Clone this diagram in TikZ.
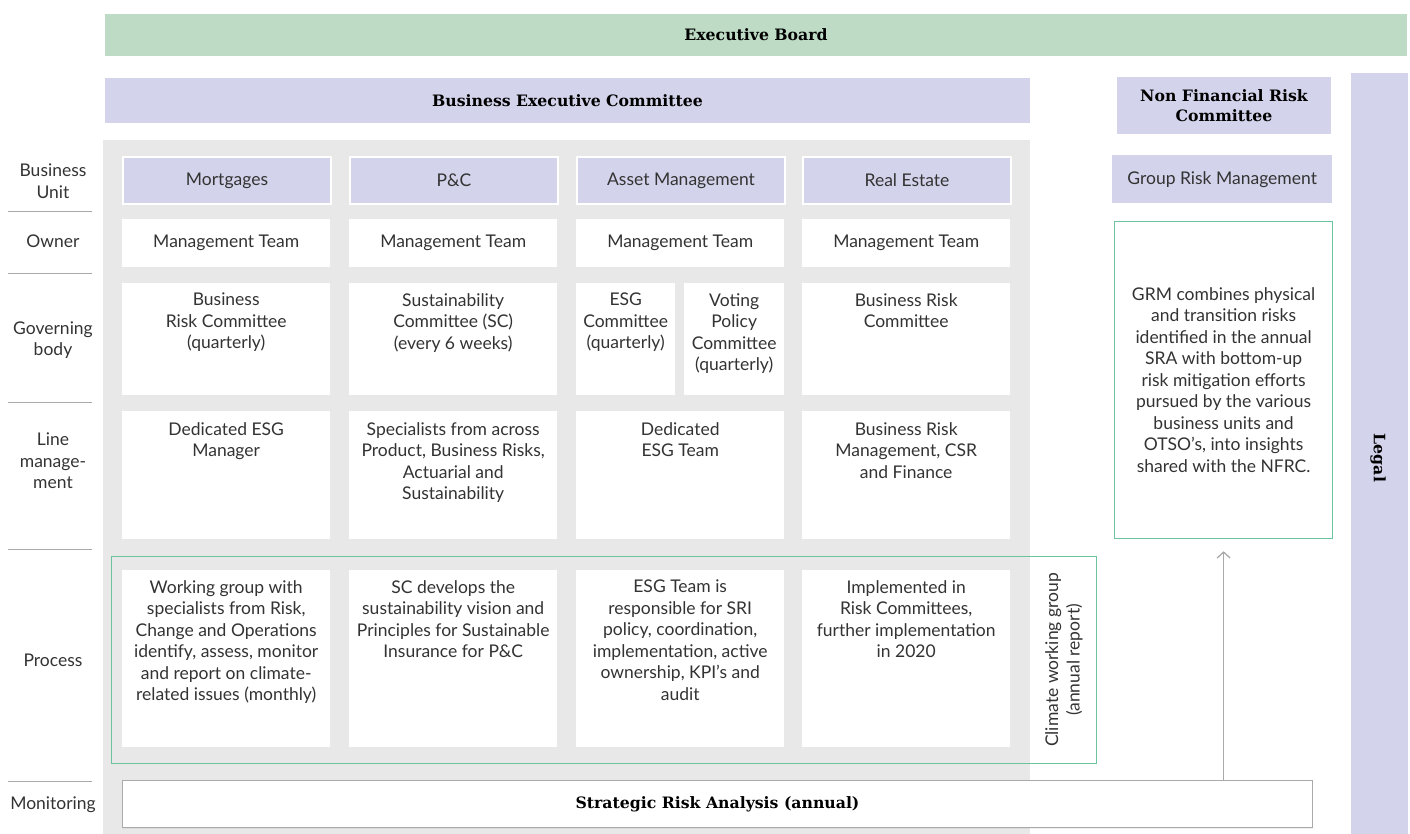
\documentclass[tikz,border=0pt]{standalone}
\usepackage{fontspec}
\setmainfont{Lato}
\newfontfamily\headfont{DejaVu Serif}
\usetikzlibrary{positioning,shadows,arrows.meta}

\definecolor{boardgreen}{HTML}{BEDCC5}
\definecolor{lavender}{HTML}{D3D4EB}
\definecolor{panelgray}{HTML}{E8E8E8}
\definecolor{framegreen}{HTML}{6CC49F}
\definecolor{textgray}{HTML}{333333}
\definecolor{rulegray}{HTML}{AAAAAA}

\tikzset{
  every node/.style={font=\fontsize{17.5}{21.5}\selectfont, text=textgray, inner sep=0pt},
  headfnt/.style={font=\headfont\bfseries\fontsize{15.7}{20}\selectfont, text=black},
  softshadow/.style={drop shadow={opacity=0.12, shadow xshift=0pt, shadow yshift=-1.5pt}},
  headbar/.style={fill=lavender, draw=white, line width=2pt, softshadow, headfnt, anchor=north west},
  unitbox/.style={fill=lavender, draw=white, line width=2pt, softshadow, minimum width=208pt, minimum height=47pt, anchor=north west},
  cellbox/.style={fill=white, minimum width=208pt, anchor=north west},
  celltext/.style={align=center, anchor=north},
  rowlabel/.style={align=center},
  rowrule/.style={draw=rulegray, line width=1pt},
  greenframe/.style={draw=framegreen, line width=1.2pt}
}

\begin{document}
\begin{tikzpicture}[x=1pt, y=-1pt]
  \useasboundingbox (0,0) rectangle (1410,834);

  % top bars
  \node[headbar, fill=boardgreen, minimum width=1304pt, minimum height=44pt] (board) at (103,12) {Executive Board};
  \node[headbar, minimum width=927pt, minimum height=47pt] (bec) at (103,76) {Business Executive Committee};
  \node[fill=panelgray, minimum width=927pt, minimum height=694pt, anchor=north west] (panel) at (103,140) {};

  % right column
  \node[headbar, minimum width=216pt, minimum height=59pt, align=center] (nfrc) at (1115,75) {Non Financial Risk\\Committee};
  \node[fill=lavender, minimum width=220pt, minimum height=48pt, anchor=north west] (grm) at (1112,155) {Group Risk Management};
  \node[fill=white, greenframe, minimum width=218pt, minimum height=317pt, anchor=north west, align=center] (grmnote) at (1114,221)
    {GRM combines physical\\and transition risks\\identified in the annual\\SRA with bottom-up\\risk mitigation efforts\\pursued by the various\\business units and\\OTSO's, into insights\\shared with the NFRC.};
  \node[fill=lavender, softshadow, minimum width=57pt, minimum height=761pt, anchor=north west] (legalbar) at (1351,73) {};
  \node[headfnt, rotate=-90] (legal) at (1378,458) {Legal};

  % row labels
  \foreach \y in {212,274,402,549,781}
    \draw[rowrule] (8,\y) -- (92,\y);
  \node[rowlabel] (lunit) at (53,181) {Business\\Unit};
  \node[rowlabel] (lowner) at (53,241) {Owner};
  \node[rowlabel] (lgov) at (53,340) {Governing\\body};
  \node[rowlabel] (lline) at (53,461) {Line\\manage-\\ment};
  \node[rowlabel] (lproc) at (53,660) {Process};
  \node[rowlabel] (lmon) at (53,805) {Monitoring};

  % business units
  \node[unitbox] (mort) at (122,156) {Mortgages};
  \node[unitbox] (pc) at (349,156) {P\&C};
  \node[unitbox] (am) at (576,156) {Asset Management};
  \node[unitbox] (re) at (802,156) {Real Estate};

  % owners
  \node[cellbox, minimum height=48pt] (own1) at (122,219) {Management Team};
  \node[cellbox, minimum height=48pt] (own2) at (349,219) {Management Team};
  \node[cellbox, minimum height=48pt] (own3) at (576,219) {Management Team};
  \node[cellbox, minimum height=48pt] (own4) at (802,219) {Management Team};

  % governing bodies
  \node[cellbox, minimum height=112pt] (gov1) at (122,283) {};
  \node[cellbox, minimum height=112pt] (gov2) at (349,283) {};
  \node[cellbox, minimum height=112pt, minimum width=99pt] (gov3a) at (576,283) {};
  \node[cellbox, minimum height=112pt, minimum width=100pt] (gov3b) at (684,283) {};
  \node[cellbox, minimum height=112pt] (gov4) at (802,283) {};
  \node[celltext] at ([yshift=-10pt]gov1.north) {Business\\Risk Committee\\(quarterly)};
  \node[celltext] at ([yshift=-10pt]gov2.north) {Sustainability\\Committee (SC)\\(every 6 weeks)};
  \node[celltext] at ([yshift=-10pt]gov3a.north) {ESG\\Committee\\(quarterly)};
  \node[celltext] at ([yshift=-10pt]gov3b.north) {Voting\\Policy\\Committee\\(quarterly)};
  \node[celltext] at ([yshift=-10pt]gov4.north) {Business Risk\\Committee};

  % line management
  \node[cellbox, minimum height=128pt] (line1) at (122,411) {};
  \node[cellbox, minimum height=128pt] (line2) at (349,411) {};
  \node[cellbox, minimum height=128pt] (line3) at (576,411) {};
  \node[cellbox, minimum height=128pt] (line4) at (802,411) {};
  \node[celltext] at ([yshift=-11pt]line1.north) {Dedicated ESG\\Manager};
  \node[celltext] at ([yshift=-11pt]line2.north) {Specialists from across\\Product, Business Risks,\\Actuarial and\\Sustainability};
  \node[celltext] at ([yshift=-11pt]line3.north) {Dedicated\\ESG Team};
  \node[celltext] at ([yshift=-11pt]line4.north) {Business Risk\\Management, CSR\\and Finance};

  % process
  \node[cellbox, minimum height=177pt] (proc1) at (122,570) {};
  \node[cellbox, minimum height=177pt] (proc2) at (349,570) {};
  \node[cellbox, minimum height=177pt] (proc3) at (576,570) {};
  \node[cellbox, minimum height=177pt] (proc4) at (802,570) {};
  \node[celltext] at ([yshift=-10pt]proc1.north) {Working group with\\specialists from Risk,\\Change and Operations\\identify, assess, monitor\\and report on climate-\\related issues (monthly)};
  \node[celltext] at ([yshift=-10pt]proc2.north) {SC develops the\\sustainability vision and\\Principles for Sustainable\\Insurance for P\&C};
  \node[celltext] at ([yshift=-10pt]proc3.north) {ESG Team is\\responsible for SRI\\policy, coordination,\\implementation, active\\ownership, KPI's and\\audit};
  \node[celltext] at ([yshift=-10pt]proc4.north) {Implemented in\\Risk Committees,\\further implementation\\in 2020};

  \node[greenframe, minimum width=985pt, minimum height=207pt, anchor=north west] (procframe) at (111,556) {};
  \node[rotate=90, align=center] (climate) at (1064,660) {Climate working group\\(annual report)};

  % monitoring
  \node[fill=white, draw=rulegray, line width=1pt, softshadow, headfnt, minimum width=1190pt, minimum height=47pt, anchor=north west] (sra) at (122,780) {Strategic Risk Analysis (annual)};

  \draw[draw=rulegray, line width=1.3pt, -{Straight Barb[length=6pt, width=13pt]}] (sra.north -| grmnote.south) -- ([yshift=-12pt]grmnote.south);
\end{tikzpicture}
\end{document}
